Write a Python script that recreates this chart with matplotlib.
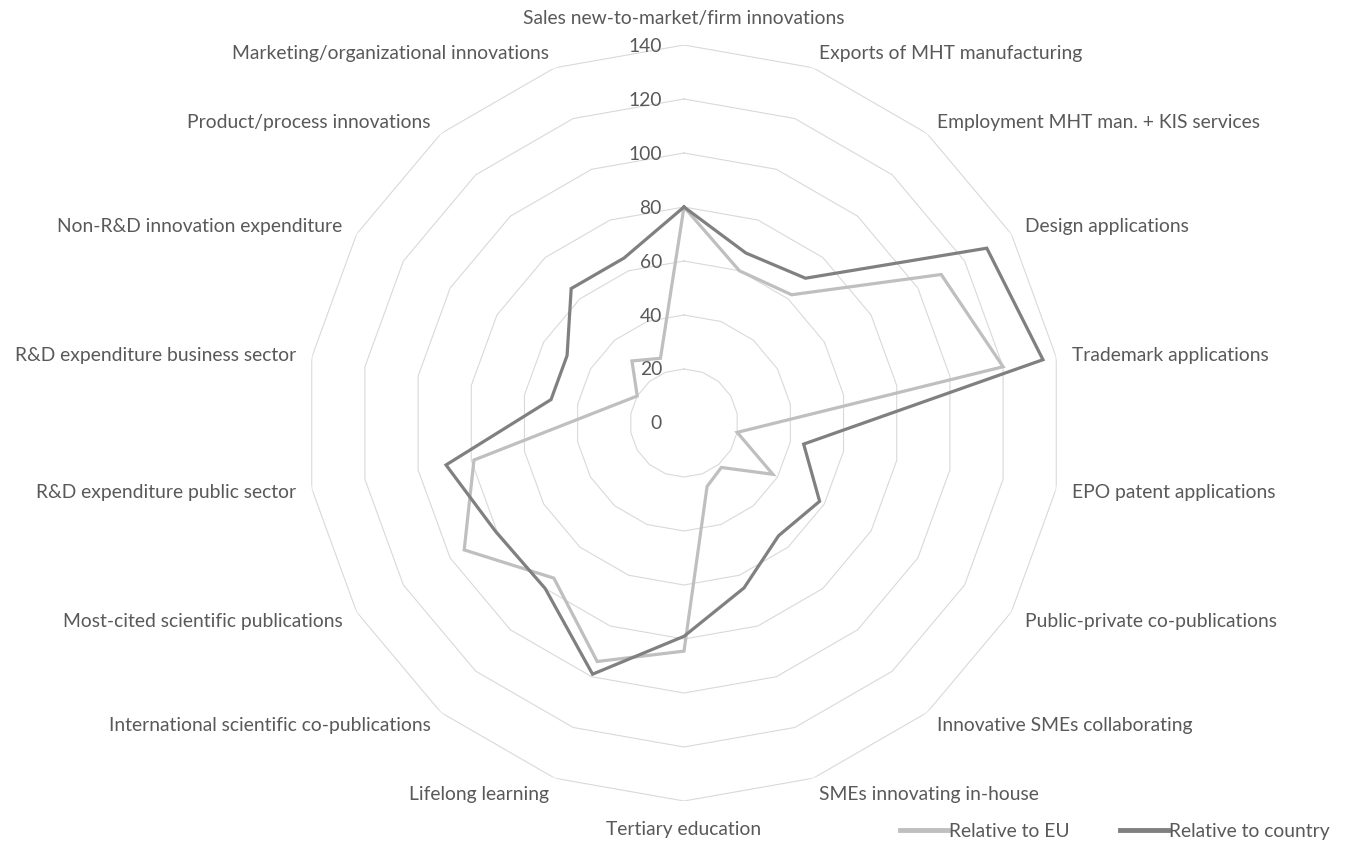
import numpy as np
import matplotlib
matplotlib.use("Agg")
import matplotlib.pyplot as plt
from matplotlib.lines import Line2D

categories = [
    "Sales new-to-market/firm innovations",
    "Exports of MHT manufacturing",
    "Employment MHT man. + KIS services",
    "Design applications",
    "Trademark applications",
    "EPO patent applications",
    "Public-private co-publications",
    "Innovative SMEs collaborating",
    "SMEs innovating in-house",
    "Tertiary education",
    "Lifelong learning",
    "International scientific co-publications",
    "Most-cited scientific publications",
    "R&D expenditure public sector",
    "R&D expenditure business sector",
    "Non-R&D innovation expenditure",
    "Product/process innovations",
    "Marketing/organizational innovations",
]
relative_to_eu = [80, 60, 62, 110, 120, 20, 38, 21.5, 25, 84.5, 94, 75, 94, 79, 30, 20, 30, 25.5]
relative_to_country = [80, 67, 70, 129.5, 135, 45, 58, 54.5, 65, 79, 99, 80, 80.5, 89.5, 50, 50, 65, 65]
ticks = [0, 20, 40, 60, 80, 100, 120, 140]
series_names = ["Relative to EU", "Relative to country"]

TEXT = "#595959"
GRID = "#D9D9D9"
C_EU = "#BFBFBF"
C_CO = "#808080"
FONT = "Lato"
FS = 13.9

W, H = 1354, 845
fig = plt.figure(figsize=(W / 100, H / 100), dpi=100)
cx, cy, R = 684, 424, 378
ax = fig.add_axes([(cx - R) / W, 1 - (cy + R) / H, 2 * R / W, 2 * R / H], projection="polar")
ax.set_theta_zero_location("N")
ax.set_theta_direction(-1)
ax.set_ylim(0, 140)
ax.grid(False)
ax.spines["polar"].set_visible(False)
ax.set_xticks([])
ax.set_yticks([])
ax.patch.set_alpha(0)

n = len(categories)
theta = np.arange(n) * 2 * np.pi / n
theta_c = np.append(theta, theta[0])

# polygon grid
for t in ticks[1:]:
    ax.plot(theta_c, [t] * (n + 1), color=GRID, lw=0.8, zorder=1)

# tick labels
for t in ticks:
    ax.annotate(str(t), xy=(0, t), xytext=(-22, 0), textcoords="offset pixels",
                ha="right", va="center", color=TEXT, fontsize=FS, family=FONT,
                annotation_clip=False)

def closed(v):
    return list(v) + [v[0]]

ax.plot(theta_c, closed(relative_to_eu), color=C_EU, lw=2.3, zorder=3, solid_joinstyle="miter")
ax.plot(theta_c, closed(relative_to_country), color=C_CO, lw=2.3, zorder=4, solid_joinstyle="miter")

# category labels
for th, lab in zip(theta, categories):
    deg = np.degrees(th) % 360
    if abs(deg) < 1:
        ha, va, r = "center", "bottom", 147.2
    elif abs(deg - 180) < 1:
        ha, va, r = "center", "top", 147.2
    elif deg < 180:
        ha, va, r = "left", "center", 146
    else:
        ha, va, r = "right", "center", 146
    ax.text(th, r, lab, ha=ha, va=va, color=TEXT, fontsize=FS, family=FONT, clip_on=False)

handles = [Line2D([], [], color=C_EU, lw=3.5), Line2D([], [], color=C_CO, lw=3.5)]
leg = fig.legend(handles, series_names, loc="center right",
                 bbox_to_anchor=(1347 / W, 1 - 832 / H), ncol=2, frameon=False,
                 handlelength=2.5, handletextpad=0.05, columnspacing=2.6,
                 prop={"family": FONT, "size": FS})
for t in leg.get_texts():
    t.set_color(TEXT)

fig.savefig("out.png", dpi=100)
